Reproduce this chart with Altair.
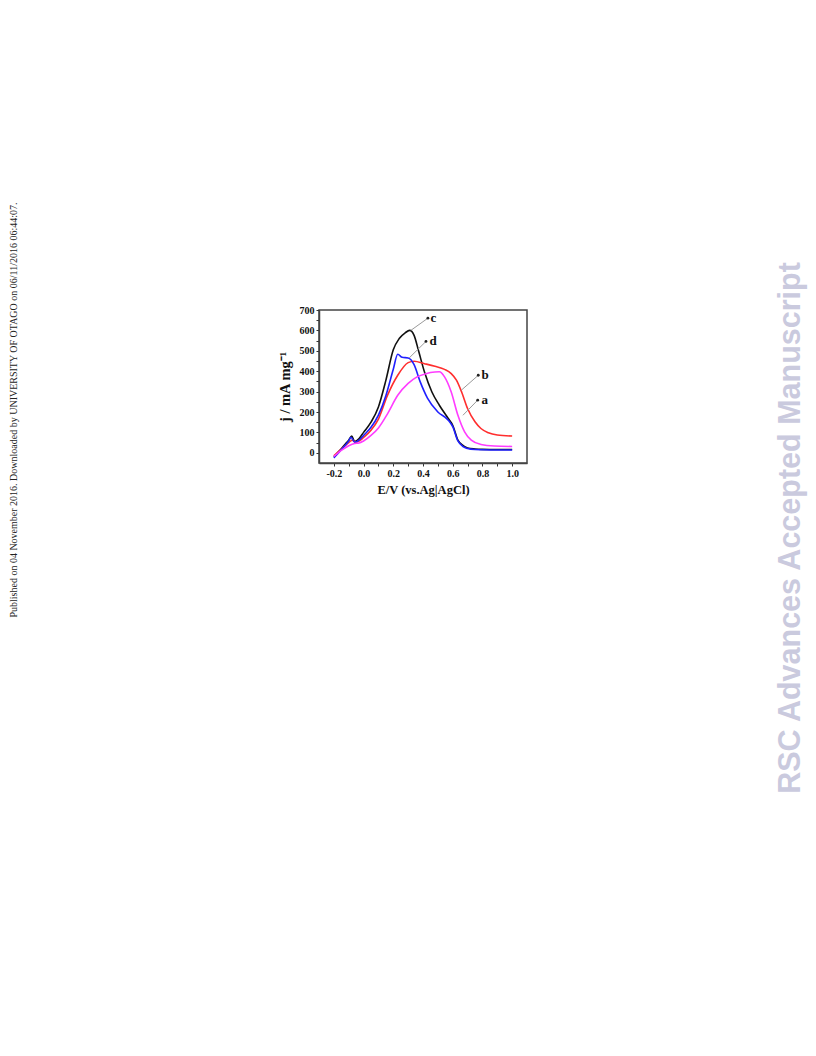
import altair as alt
import pandas as pd

# ---- data ----
x_c = [-0.2, -0.15, -0.12, -0.1, -0.08, -0.06, -0.03, 0.0, 0.05, 0.1, 0.15, 0.2, 0.24, 0.28, 0.31, 0.34, 0.37, 0.41, 0.46, 0.51, 0.57, 0.6, 0.635, 0.67, 0.7, 0.75, 0.8, 0.9, 1.0]
y_c = [-20, 20, 45, 62, 82, 55, 70, 100, 150, 225, 355, 505, 560, 588, 600, 576, 500, 396, 298, 233, 168, 135, 62, 35, 24, 19, 17, 16, 16]

x_d = [-0.2, -0.15, -0.12, -0.1, -0.085, -0.06, -0.03, 0.0, 0.05, 0.1, 0.15, 0.2, 0.23, 0.26, 0.3, 0.34, 0.38, 0.43, 0.5, 0.57, 0.6, 0.635, 0.67, 0.7, 0.75, 0.8, 0.9, 1.0]
y_d = [-25, 15, 40, 58, 76, 52, 62, 85, 125, 185, 280, 410, 483, 468, 465, 432, 350, 268, 200, 160, 128, 58, 30, 21, 16, 15, 14, 14]

x_b = [-0.2, -0.15, -0.12, -0.1, -0.075, -0.055, -0.03, 0.0, 0.05, 0.1, 0.16, 0.23, 0.3, 0.34, 0.41, 0.48, 0.545, 0.59, 0.625, 0.66, 0.7, 0.75, 0.79, 0.84, 0.9, 1.0]
y_b = [-15, 18, 38, 50, 62, 52, 58, 75, 110, 165, 280, 380, 442, 449, 437, 424, 409, 388, 356, 298, 217, 152, 119, 98, 87, 82]

x_a = [-0.2, -0.15, -0.1, -0.06, -0.03, 0.0, 0.05, 0.1, 0.16, 0.23, 0.3, 0.36, 0.42, 0.48, 0.51, 0.545, 0.59, 0.635, 0.68, 0.725, 0.79, 0.88, 1.0]
y_a = [-18, 12, 35, 46, 48, 58, 85, 122, 190, 282, 340, 372, 388, 396, 397, 372, 298, 184, 103, 62, 41, 33, 31]

label_names = ["c", "d", "b", "a"]
label_x = [0.45, 0.444, 0.793, 0.793]
dot_x = [0.433, 0.42, 0.772, 0.768]
dot_y = [660, 546, 380, 258]
lead_x = [0.318, 0.307, 0.658, 0.669]
lead_y = [600, 465, 307, 184]

x_ticks = [-0.2, -0.1, 0.0, 0.1, 0.2, 0.3, 0.4, 0.5, 0.6, 0.7, 0.8, 0.9, 1.0]
y_ticks = [0, 50, 100, 150, 200, 250, 300, 350, 400, 450, 500, 550, 600, 650, 700]

left_note = "Published on 04 November 2016. Downloaded by UNIVERSITY OF OTAGO on 06/11/2016 06:44:07."
right_note = "RSC Advances Accepted Manuscript"

SERIF = "Liberation Serif"

xscale = alt.Scale(domain=[-0.3, 1.1], nice=False, zero=False)
yscale = alt.Scale(domain=[-50, 700], nice=False, zero=False)

common_axis = dict(
    grid=False, tickSize=3, labelPadding=2, labelOverlap=False, tickCount=40,
    labelFont=SERIF, labelFontWeight="bold", labelFontSize=10, labelColor="#111111",
    titleFont=SERIF, titleFontWeight="bold", titleColor="#111111",
    domainColor="#444444", domainWidth=1.5, tickColor="#333333", tickWidth=1,
)

xaxis = alt.Axis(
    values=x_ticks,
    labelExpr="round(datum.value*10) % 2 == 0 ? replace(format(datum.value, '.1f'), '\u2212', '-') : ''",
    title="E/V (vs.Ag|AgCl)",
    titleFontSize=12.5,
    titlePadding=5,
    **common_axis,
)
yaxis = alt.Axis(
    values=y_ticks,
    labelExpr="datum.value % 100 == 0 ? datum.label : ''",
    title="j / mA mg\u207b\u00b9",
    titleFontSize=14.5,
    titlePadding=7,
    **common_axis,
)


def series(xs, ys, color):
    df = pd.DataFrame({"E": xs, "j": ys})
    return alt.Chart(df).mark_line(color=color, strokeWidth=1.6, interpolate="monotone").encode(
        x=alt.X("E:Q", scale=xscale, axis=xaxis),
        y=alt.Y("j:Q", scale=yscale, axis=yaxis),
    )


line_c = series(x_c, y_c, "#111111")
line_b = series(x_b, y_b, "#ff2e2e")
line_d = series(x_d, y_d, "#2020ff")
line_a = series(x_a, y_a, "#ff3cff")

lab_df = pd.DataFrame({
    "name": label_names, "lx": label_x, "dx": dot_x, "dy": dot_y,
    "ex": lead_x, "ey": lead_y,
})

leaders = alt.Chart(lab_df).mark_rule(color="#9a9a9a", strokeWidth=1).encode(
    x=alt.X("dx:Q", scale=xscale, axis=xaxis), y=alt.Y("dy:Q", scale=yscale, axis=yaxis),
    x2="ex:Q", y2="ey:Q",
)
dots = alt.Chart(lab_df).mark_point(filled=True, size=8, color="#222222", opacity=1).encode(
    x=alt.X("dx:Q", scale=xscale, axis=xaxis), y=alt.Y("dy:Q", scale=yscale, axis=yaxis),
)
labels = alt.Chart(lab_df).mark_text(
    align="left", baseline="middle", font=SERIF, fontWeight="bold", fontSize=13, color="#111111"
).encode(
    x=alt.X("lx:Q", scale=xscale, axis=xaxis), y=alt.Y("dy:Q", scale=yscale, axis=yaxis), text="name:N",
)

one = pd.DataFrame({"k": [0]})
note_left = alt.Chart(one).mark_text(
    angle=270, align="center", baseline="alphabetic", font=SERIF, fontSize=10, color="#222222"
).encode(x=alt.value(-302), y=alt.value(100), text=alt.value(left_note))
note_right = alt.Chart(one).mark_text(
    angle=270, align="center", baseline="alphabetic", font="Liberation Sans", fontWeight="bold",
    fontSize=30.5, color="#cacade"
).encode(x=alt.value(481), y=alt.value(218), text=alt.value(right_note))

chart = alt.layer(
    line_c, line_b, line_d, line_a, leaders, dots, labels, note_left, note_right
).properties(
    width=208,
    height=153,
    background="white",
    padding={"left": 311, "top": 302, "right": 281, "bottom": 583},
    autosize=alt.AutoSizeParams(type="none"),
).configure_view(
    stroke="#444444", strokeWidth=1.5
)

chart.save("out.html", embed_options={"renderer": "svg", "actions": False})
